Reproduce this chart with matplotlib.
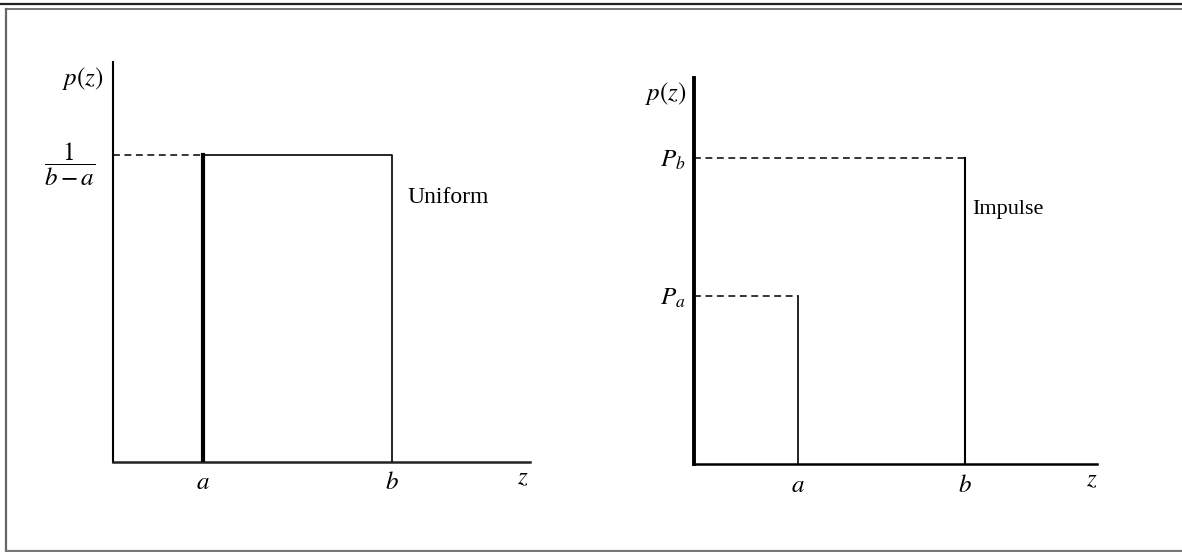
import matplotlib.pyplot as plt
from matplotlib.lines import Line2D

plt.rcParams['mathtext.fontset'] = 'stix'
plt.rcParams['font.family'] = ['Liberation Serif', 'DejaVu Serif']

# uniform density: p(z) = 1/(b-a) on [a, b]
uni_a = 1.0
uni_b = 3.1
uni_h = 1.0 / (uni_b - uni_a)
uni_xmax = 4.63
uni_ymax = uni_h * 400 / 307

# impulse (salt and pepper) density: spikes Pa at a and Pb at b
imp_a = 1.0
imp_b = 2.6
imp_Pa = 0.55
imp_Pb = 1.0
imp_xmax = 3.87
imp_ymax = 1.26

W, H = 1182, 552
fig = plt.figure(figsize=(W / 100, H / 100), dpi=100)
fig.patch.set_facecolor('white')

# outer frame
fig.add_artist(Line2D([0, 1], [1 - 3.5 / H, 1 - 3.5 / H], color='#222222', lw=1.6))
fig.add_artist(Line2D([5.5 / W, 1], [1 - 8.5 / H, 1 - 8.5 / H], color='#777777', lw=1.4))
fig.add_artist(Line2D([6 / W, 6 / W], [1 - 8.5 / H, 1.2 / H], color='#666666', lw=1.6))
fig.add_artist(Line2D([6 / W, 1], [1.2 / H, 1.2 / H], color='#777777', lw=1.6))


def make_axes(x0, y0, x1, y1):
    ax = fig.add_axes([x0 / W, 1 - y0 / H, (x1 - x0) / W, (y0 - y1) / H])
    ax.set_facecolor('none')
    for s in ax.spines.values():
        s.set_visible(False)
    return ax


dash = (0, (4.5, 3))
fs = 18

# ---- left panel: Uniform ----
ax1 = make_axes(113, 462, 530, 62)
ax1.set_xlim(0, uni_xmax)
ax1.set_ylim(0, uni_ymax)
ax1.plot([0, 0], [0, uni_ymax], color='black', lw=1.5, clip_on=False)
ax1.plot([0, uni_xmax], [0, 0], color='#222222', lw=1.8, clip_on=False)
ax1.plot([0, uni_a], [uni_h, uni_h], color='black', lw=1.1, ls=dash)
ax1.plot([uni_a, uni_a], [0, uni_h], color='black', lw=3.0)
ax1.plot([uni_a, uni_b, uni_b], [uni_h, uni_h, 0], color='black', lw=1.2)
ax1.set_xticks([uni_a, uni_b], ['$a$', '$b$'], fontsize=fs)
ax1.set_yticks([uni_h], [r'$\dfrac{1}{b-a}$'], fontsize=fs)
ax1.tick_params(axis='x', length=0, pad=7)
ax1.tick_params(axis='y', length=0, pad=13)
ax1.annotate('$p(z)$', (0, 1), xycoords='axes fraction', xytext=(-7, -12),
             textcoords='offset points', ha='right', va='center', fontsize=fs)
ax1.annotate('$z$', (1, 0), xycoords='axes fraction', xytext=(-5, -12),
             textcoords='offset points', ha='center', va='center', fontsize=fs)
ax1.text(uni_b + 0.17, uni_h * 0.86, 'Uniform', fontsize=17, ha='left', va='center')

# ---- right panel: Impulse ----
ax2 = make_axes(694, 464, 1097, 78)
ax2.set_xlim(0, imp_xmax)
ax2.set_ylim(0, imp_ymax)
ax2.plot([0, 0], [0, imp_ymax], color='black', lw=2.8, clip_on=False)
ax2.plot([0, imp_xmax], [0, 0], color='black', lw=1.8, clip_on=False)
ax2.plot([0, imp_a], [imp_Pa, imp_Pa], color='black', lw=1.1, ls=dash)
ax2.plot([0, imp_b], [imp_Pb, imp_Pb], color='black', lw=1.1, ls=dash)
ax2.plot([imp_a, imp_a], [0, imp_Pa], color='black', lw=1.2)
ax2.plot([imp_b, imp_b], [0, imp_Pb], color='black', lw=1.5)
ax2.set_xticks([imp_a, imp_b], ['$a$', '$b$'], fontsize=fs)
ax2.set_yticks([imp_Pa, imp_Pb], ['$P_a$', '$P_b$'], fontsize=fs)
ax2.tick_params(axis='x', length=0, pad=8)
ax2.tick_params(axis='y', length=0, pad=6)
ax2.annotate('$p(z)$', (0, 1), xycoords='axes fraction', xytext=(-5, -11),
             textcoords='offset points', ha='right', va='center', fontsize=fs)
ax2.annotate('$z$', (1, 0), xycoords='axes fraction', xytext=(-4, -12),
             textcoords='offset points', ha='center', va='center', fontsize=fs)
ax2.text(imp_b + 0.07, imp_Pb * 0.83, 'Impulse', fontsize=16, ha='left', va='center')

plt.savefig('out.png', dpi=100, facecolor='white')
